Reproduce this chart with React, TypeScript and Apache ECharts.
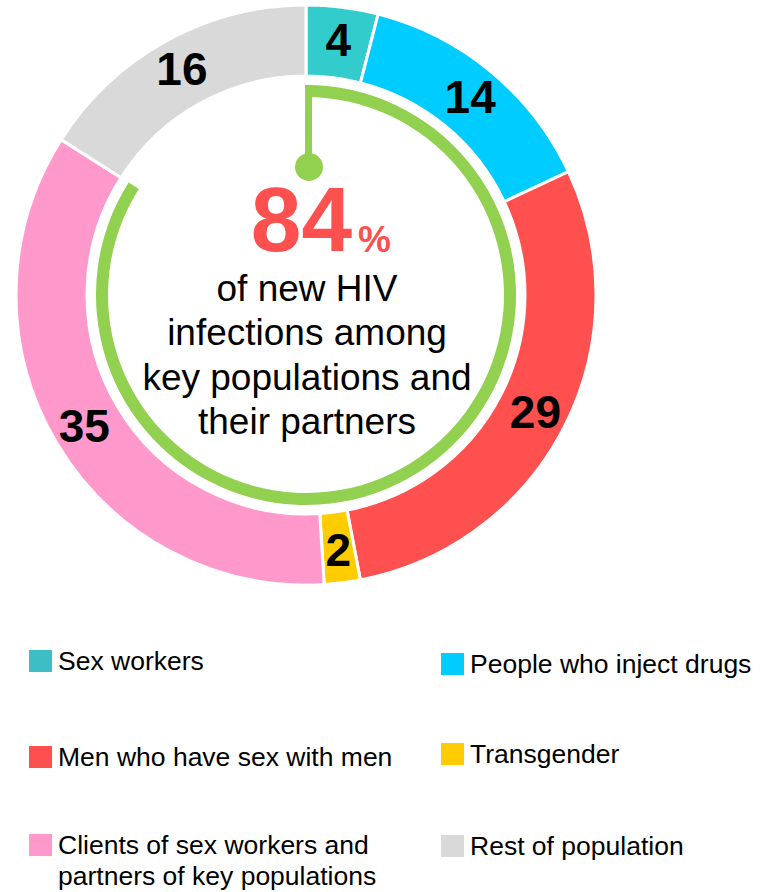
import React, { useEffect, useRef } from "react";
import * as echarts from "echarts";

// ---- data ----
const categories = [
  "Sex workers",
  "People who inject drugs",
  "Men who have sex with men",
  "Transgender",
  "Clients of sex workers and partners of key populations",
  "Rest of population",
];
const values = [4, 14, 29, 2, 35, 16];
const keyShare = 84;
const centerLines = ["of new HIV", "infections among", "key populations and", "their partners"];
const legendLabels = [
  "Sex workers",
  "People who inject drugs",
  "Men who have sex with men",
  "Transgender",
  "Clients of sex workers and\npartners of key populations",
  "Rest of population",
];

// ---- styles / layout ----
const sliceColors = ["#33CCCC", "#00CCFF", "#FF5050", "#FFCC00", "#FF99CC", "#D9D9D9"];
const legendIconColors = ["#3DBEC4", "#00CCFF", "#FF5050", "#FFCC00", "#FF99CC", "#D9D9D9"];
const legendIconPos: [number, number][] = [
  [29, 649],
  [441, 652],
  [29, 745],
  [441, 742],
  [29, 834],
  [441, 834],
];
const FONT = "'Liberation Sans', Arial, Helvetica, sans-serif";
const GREEN = "#92D050";
const RED = "#FF5050";
const CX = 306;
const CY = 295;

export default function App() {
  const ref = useRef<HTMLDivElement>(null);

  useEffect(() => {
    if (!ref.current) return;
    const chart = echarts.init(ref.current, null, { renderer: "svg" });

    const legends = categories.map((name, i) => {
      const twoLine = legendLabels[i].includes("\n");
      return {
        show: true,
        left: legendIconPos[i][0],
        top: twoLine ? legendIconPos[i][1] - 35.5 : legendIconPos[i][1] - 3,
        orient: "vertical",
        padding: 0,
        itemWidth: 23,
        itemHeight: 22,
        icon: "rect",
        selectedMode: false,
        // leading empty line keeps the icon level with the first text line
        formatter: () => (twoLine ? "\n" + legendLabels[i] : legendLabels[i]),
        textStyle: {
          fontFamily: FONT,
          fontSize: 26.5,
          color: "#000",
          lineHeight: twoLine ? 31 : 30,
          padding: [0, 0, 0, 1],
        },
        data: [
          {
            name,
            itemStyle: { color: legendIconColors[i], borderWidth: 0 },
          },
        ],
      };
    });

    const textGraphics: any[] = [
      {
        type: "text",
        x: 352,
        y: 265,
        style: {
          text: String(keyShare),
          font: `bold 91px ${FONT}`,
          fill: RED,
          align: "right",
          textAlign: "right",
          verticalAlign: "bottom",
          textVerticalAlign: "bottom",
        },
      },
      {
        type: "text",
        x: 358,
        y: 258,
        style: {
          text: "%",
          font: `bold 37px ${FONT}`,
          fill: RED,
          align: "left",
          textAlign: "left",
          verticalAlign: "bottom",
          textVerticalAlign: "bottom",
        },
      },
      {
        type: "text",
        x: 307,
        y: 266,
        style: {
          text: centerLines.join("\n"),
          font: `37px ${FONT}`,
          lineHeight: 44.5,
          fill: "#000",
          align: "center",
          textAlign: "center",
          verticalAlign: "top",
          textVerticalAlign: "top",
        },
      },
      {
        type: "line",
        shape: { x1: 308.5, y1: 85, x2: 308.5, y2: 167 },
        style: { stroke: GREEN, lineWidth: 7 },
        z: 10,
      },
      {
        type: "circle",
        shape: { cx: 309, cy: 167, r: 14 },
        style: { fill: GREEN },
        z: 10,
      },
    ];

    chart.setOption({
      animation: false,
      legend: legends,
      graphic: textGraphics,
      series: [
        {
          type: "pie",
          center: [CX, CY],
          radius: [219, 290],
          startAngle: 90,
          clockwise: true,
          avoidLabelOverlap: false,
          silent: true,
          itemStyle: { borderColor: "#fff", borderWidth: 3 },
          label: {
            show: true,
            position: "inside",
            formatter: "{c}",
            fontFamily: FONT,
            fontSize: 46,
            fontWeight: "bold",
            color: "#000",
          },
          labelLine: { show: false },
          emphasis: { disabled: true },
          data: categories.map((name, i) => ({
            name,
            value: values[i],
            itemStyle: { color: sliceColors[i] },
          })),
        },
        {
          type: "pie",
          center: [CX, CY],
          radius: [198, 210],
          startAngle: 90,
          clockwise: true,
          silent: true,
          label: { show: false },
          labelLine: { show: false },
          emphasis: { disabled: true },
          data: [
            { name: "key-share", value: keyShare, itemStyle: { color: GREEN } },
            { name: "other-share", value: 100 - keyShare, itemStyle: { color: "rgba(0,0,0,0)" } },
          ],
        },
      ],
    });

    return () => chart.dispose();
  }, []);

  return (
    <div
      ref={ref}
      style={{ position: "fixed", left: 0, top: 0, width: 767, height: 892, background: "#fff" }}
    />
  );
}
